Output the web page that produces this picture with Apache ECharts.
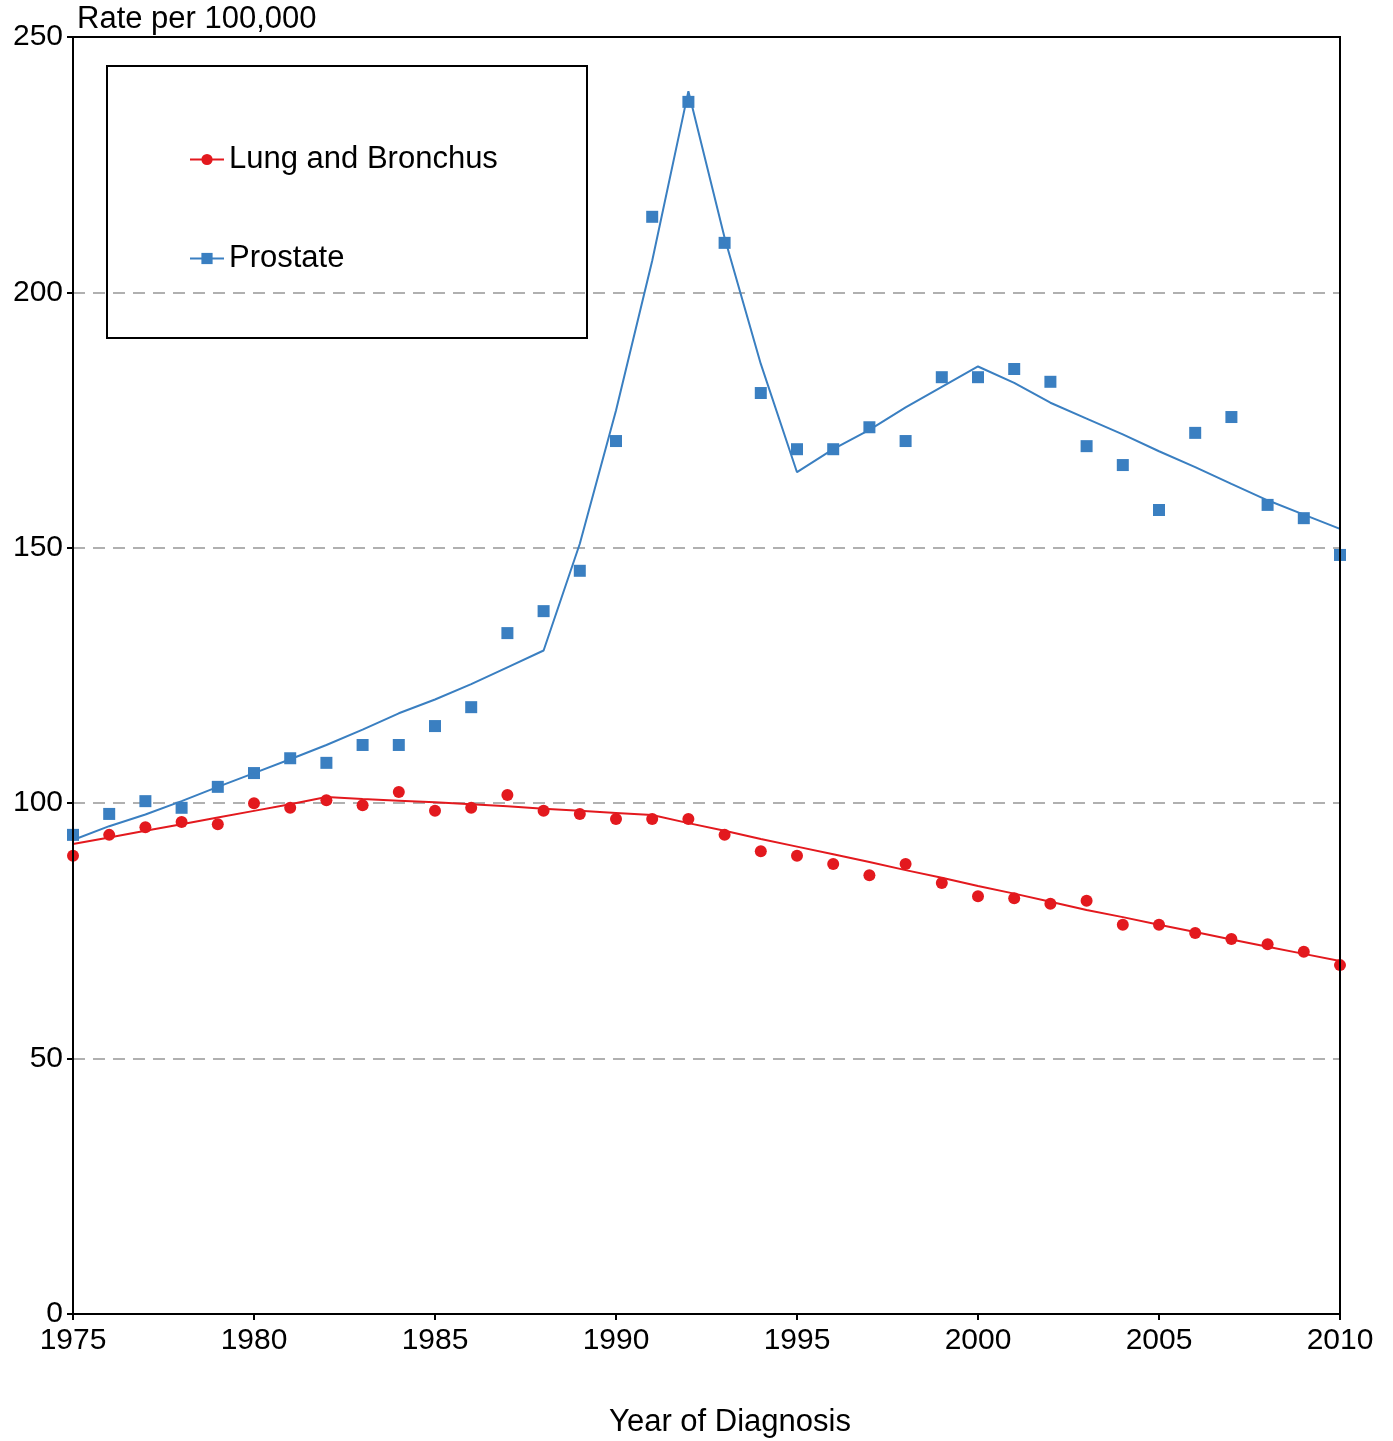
<!DOCTYPE html><html><head><meta charset="utf-8"><script src="https://cdn.jsdelivr.net/npm/echarts@6/dist/echarts.min.js"></script>
<style>body{margin:0}#c{width:1393px;height:1441px}</style></head><body><div id="c"></div><script>
const years=[];for(let y=1975;y<=2010;y++)years.push(y);
const lungObs=[89.7,93.8,95.3,96.3,95.9,100.0,99.1,100.6,99.6,102.2,98.5,99.1,101.6,98.5,97.9,96.9,96.9,96.9,93.8,90.6,89.7,88.1,85.9,88.1,84.4,81.8,81.4,80.3,80.9,76.2,76.2,74.6,73.4,72.4,70.9,68.3];
const lungFit=[92.0,93.3,94.6,95.9,97.2,98.5,99.8,101.2,100.8,100.5,100.2,99.8,99.4,98.9,98.5,98.1,97.7,96.1,94.6,93.0,91.5,90.0,88.5,86.9,85.4,83.8,82.3,80.7,79.1,77.7,76.2,74.8,73.3,71.9,70.5,69.1];
const prosObs=[93.8,97.9,100.4,99.1,103.2,105.9,108.8,107.9,111.4,111.4,115.1,118.8,133.3,137.6,145.5,170.9,214.8,237.3,209.7,180.3,169.3,169.3,173.6,170.9,183.4,183.4,185.0,182.5,169.9,166.2,157.4,172.5,175.6,158.4,155.8,148.6];
const prosFit=[92.8,95.5,97.8,100.4,103.2,105.9,108.6,111.4,114.4,117.6,120.3,123.3,126.6,129.9,150.8,176.9,206.2,239.4,210.7,186.0,164.8,169.3,173.1,177.5,181.5,185.5,182.3,178.4,175.3,172.2,168.9,165.8,162.5,159.3,156.5,153.7];
const z=(a)=>years.map((y,i)=>[y,a[i]]);
const RED='#e3191e',BLUE='#3a7fc1';
const ch=echarts.init(document.getElementById('c'));
const lab={fontFamily:'Liberation Sans',fontSize:30,color:'#000'};
ch.setOption({animation:false,
grid:{left:73,right:53,top:37,bottom:127},
xAxis:{type:'value',min:1975,max:2010,interval:5,axisLine:{lineStyle:{color:'#000',width:2}},axisTick:{lineStyle:{color:'#000',width:2},length:6},splitLine:{show:false},axisLabel:Object.assign({margin:12,formatter:v=>String(v)},lab)},
yAxis:{type:'value',min:0,max:250,interval:50,axisLine:{show:true,lineStyle:{color:'#000',width:2}},axisTick:{show:true,lineStyle:{color:'#000',width:2},length:6},splitLine:{lineStyle:{color:'#b0b0b0',type:[12,8],width:2}},axisLabel:Object.assign({margin:10},lab)},
legend:{orient:'vertical',left:184,top:139,itemGap:68,itemWidth:34,itemHeight:14,textStyle:Object.assign({},lab,{fontSize:31}),data:['Lung and Bronchus','Prostate']},
graphic:[{type:'rect',z:100,shape:{x:107,y:66,width:480,height:272},style:{fill:'none',stroke:'#000',lineWidth:2}},
{type:'rect',z:100,shape:{x:73,y:37,width:1267,height:1277},style:{fill:'none',stroke:'#000',lineWidth:2}},
{type:'text',left:77,top:4,style:{text:'Rate per 100,000',font:'31px Liberation Sans',fill:'#000'}},
{type:'text',x:730,y:1407,style:{text:'Year of Diagnosis',font:'31px Liberation Sans',fill:'#000',align:'center'}}],
series:[
{name:'Lung and Bronchus',type:'line',data:z(lungFit),showSymbol:false,symbol:'circle',symbolSize:12,itemStyle:{color:RED},lineStyle:{color:RED,width:2}},
{name:'Prostate',type:'line',data:z(prosFit),showSymbol:false,symbol:'rect',symbolSize:12,itemStyle:{color:BLUE},lineStyle:{color:BLUE,width:2}},
{type:'scatter',data:z(lungObs),symbol:'circle',symbolSize:12,itemStyle:{color:RED,opacity:1}},
{type:'scatter',data:z(prosObs),symbol:'rect',symbolSize:12,itemStyle:{color:BLUE,opacity:1}}
]});
</script></body></html>
